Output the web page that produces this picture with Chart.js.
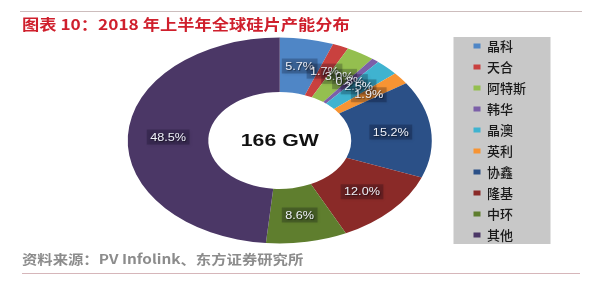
<!DOCTYPE html>
<html>
<head>
<meta charset="utf-8">
<script src="https://cdn.jsdelivr.net/npm/chart.js@4/dist/chart.umd.min.js"></script>
<style>
  html, body { margin: 0; padding: 0; background: #ffffff; }
  #wrap { position: relative; width: 600px; height: 285px; overflow: hidden; }
  #c { position: absolute; left: 0; top: 0; }
  .txt { position: absolute; white-space: nowrap; transform-origin: left center; z-index: 2; }
  #title { left: 22px; top: 15px; font: bold 15px/18px "Noto Sans CJK SC", sans-serif; color: #cf1f2c; transform: scaleX(1.15); }
  #source { left: 22px; top: 251px; font: 600 13px/16px "Noto Sans CJK SC", sans-serif; color: #8c8c8c; transform: scaleX(1.18); }
  .rule { position: absolute; height: 1px; z-index: 2; }
</style>
</head>
<body>
<div id="wrap">
  <canvas id="c" width="600" height="285"></canvas>
  <div class="rule" style="left:20px; top:11px; width:562px; background:#cdbdbd;"></div>
  <div id="title" class="txt">图表 10：2018 年上半年全球硅片产能分布</div>
  <div id="source" class="txt">资料来源：PV Infolink、东方证券研究所</div>
  <div class="rule" style="left:22px; top:273px; width:558px; background:#d6b6ba;"></div>
</div>
<script>
// ---- data ----
const categories = ['晶科', '天合', '阿特斯', '韩华', '晶澳', '英利', '协鑫', '隆基', '中环', '其他'];
const shares = [5.7, 1.7, 3.0, 0.8, 2.5, 1.9, 15.2, 12.0, 8.6, 48.5];
const sliceColors = ['#4f86c6', '#c9413f', '#94bf4f', '#7b5fa8', '#3fb3d0', '#f79433', '#2b5087', '#8a2a28', '#5f7e2e', '#4b3766'];
const centerLabel = '166 GW';

const SX = 1.476; // horizontal stretch of the picture

const legendBg = {
  id: 'legendBg',
  beforeDraw(chart) {
    const lg = chart.legend;
    if (!lg) return;
    const ctx = chart.ctx;
    ctx.save();
    ctx.fillStyle = '#c8c8c8';
    const x = lg.left - 12;
    ctx.fillRect(x, 37, 97, 207);
    ctx.restore();
  }
};

const stretch = {
  id: 'stretch',
  beforeDatasetsDraw(chart) {
    const m = chart.getDatasetMeta(0);
    const cx = m.data[0].x;
    const ctx = chart.ctx;
    ctx.save();
    ctx.translate(cx, 0);
    ctx.scale(SX, 1);
    ctx.translate(-cx, 0);
  },
  afterDatasetsDraw(chart) {
    const ctx = chart.ctx;
    ctx.restore();
    const m = chart.getDatasetMeta(0);
    const cx = m.data[0].x, cy = m.data[0].y;
    // data labels
    m.data.forEach((el, i) => {
      const p = el.tooltipPosition();
      const X = cx + (p.x - cx) * SX;
      const Y = p.y;
      const t = shares[i].toFixed(1) + '%';
      ctx.save();
      ctx.translate(X, Y);
      ctx.scale(1.15, 1);
      ctx.font = '11px "Liberation Sans", Arial, sans-serif';
      const w = ctx.measureText(t).width;
      ctx.shadowColor = 'rgba(0,0,0,0.35)';
      ctx.shadowBlur = 3;
      ctx.shadowOffsetX = 1;
      ctx.shadowOffsetY = 1;
      ctx.fillStyle = 'rgba(0,0,20,0.22)';
      ctx.fillRect(-w / 2 - 3, -7.5, w + 6, 15);
      ctx.shadowColor = 'rgba(0,0,0,0.5)';
      ctx.shadowBlur = 1;
      ctx.fillStyle = '#eef0f8';
      ctx.textAlign = 'center';
      ctx.textBaseline = 'middle';
      ctx.fillText(t, 0, 0.5);
      ctx.restore();
    });
    // center text
    ctx.save();
    ctx.translate(cx, cy);
    ctx.scale(1.25, 1);
    ctx.font = 'bold 17px "Liberation Sans", Arial, sans-serif';
    ctx.fillStyle = '#111111';
    ctx.textAlign = 'center';
    ctx.textBaseline = 'middle';
    ctx.fillText(centerLabel, 0, 1);
    ctx.restore();
  }
};

new Chart(document.getElementById('c'), {
  type: 'doughnut',
  data: {
    labels: categories,
    datasets: [{
      data: shares,
      backgroundColor: sliceColors,
      borderWidth: 0
    }]
  },
  options: {
    responsive: false,
    devicePixelRatio: 1,
    animation: false,
    radius: 103,
    cutout: '47%',
    layout: { padding: { left: 94, right: 64, top: 20, bottom: 24 } },
    plugins: {
      tooltip: { enabled: false },
      legend: {
        position: 'right',
        align: 'center',
        labels: {
          boxWidth: 7,
          boxHeight: 5,
          padding: 8,
          color: '#1a1a1a',
          font: { family: '"Noto Sans CJK SC", sans-serif', size: 13, weight: '500' }
        }
      }
    }
  },
  plugins: [legendBg, stretch]
});
</script>
</body>
</html>
